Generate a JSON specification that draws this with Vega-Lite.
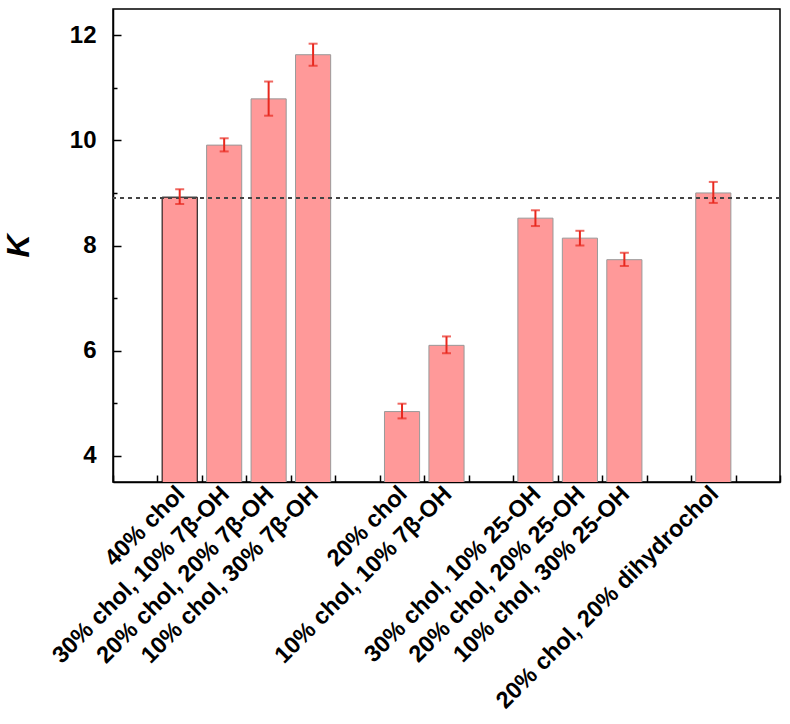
{
  "$schema": "https://vega.github.io/schema/vega-lite/v6.json",
  "autosize": "none",
  "width": 667,
  "height": 473,
  "padding": {"left": 113, "top": 9, "right": 10, "bottom": 242},
  "background": "white",
  "data": {
    "values": [
      {"label": "40% chol", "K": 8.92, "lo": 8.79, "hi": 9.07},
      {"label": "30% chol, 10% 7β-OH", "K": 9.91, "lo": 9.79, "hi": 10.04},
      {"label": "20% chol, 20% 7β-OH", "K": 10.79, "lo": 10.47, "hi": 11.12},
      {"label": "10% chol, 30% 7β-OH", "K": 11.63, "lo": 11.42, "hi": 11.84},
      {"label": "20% chol", "K": 4.84, "lo": 4.71, "hi": 4.99},
      {"label": "10% chol, 10% 7β-OH", "K": 6.1, "lo": 5.95, "hi": 6.27},
      {"label": "30% chol, 10% 25-OH", "K": 8.52, "lo": 8.37, "hi": 8.67},
      {"label": "20% chol, 20% 25-OH", "K": 8.14, "lo": 8.0, "hi": 8.28},
      {"label": "10% chol, 30% 25-OH", "K": 7.73, "lo": 7.61, "hi": 7.86},
      {"label": "20% chol, 20% dihydrochol", "K": 9.0, "lo": 8.81, "hi": 9.21}
    ]
  },
  "layer": [
    {
      "mark": {"type": "bar", "fill": "#ff9999", "strokeWidth": 1, "clip": true, "width": {"band": 0.79}},
      "encoding": {
        "x": {
          "field": "label",
          "type": "nominal",
          "sort": null,
          "scale": {
            "domain": ["_0", "40% chol", "30% chol, 10% 7β-OH", "20% chol, 20% 7β-OH", "10% chol, 30% 7β-OH", "_5", "20% chol", "10% chol, 10% 7β-OH", "_8", "30% chol, 10% 25-OH", "20% chol, 20% 25-OH", "10% chol, 30% 25-OH", "_12", "20% chol, 20% dihydrochol", "_14"],
            "paddingInner": 0,
            "paddingOuter": 0
          },
          "axis": {
            "title": null,
            "tickBand": "extent",
            "tickSize": -7,
            "tickWidth": 1.5,
            "tickColor": "black",
            "domainColor": "black",
            "domainWidth": 1.5,
            "labelAngle": -45,
            "labelAlign": "right",
            "labelBaseline": "middle",
            "labelFont": "Liberation Sans",
            "labelFontWeight": "bold",
            "labelFontSize": 23.5,
            "labelColor": "black",
            "labelPadding": 15,
            "labelOffset": 1,
            "labelLimit": 0,
            "labelOverlap": false,
            "labelExpr": "indexof(datum.label, '_') === 0 ? '' : datum.label"
          }
        },
        "y": {
          "field": "K",
          "type": "quantitative",
          "scale": {"domain": [3.5, 12.5], "nice": false, "zero": false},
          "axis": {
            "title": "K",
            "titleFont": "Liberation Sans",
            "titleFontStyle": "italic",
            "titleFontWeight": "bold",
            "titleFontSize": 32,
            "titleColor": "black",
            "titlePadding": 34,
            "values": [4, 4.5, 5, 5.5, 6, 6.5, 7, 7.5, 8, 8.5, 9, 9.5, 10, 10.5, 11, 11.5, 12],
            "tickSize": {"condition": {"test": "datum.value % 2 === 0", "value": -8}, "value": -4},
            "tickWidth": 1.5,
            "tickColor": "black",
            "domainColor": "black",
            "domainWidth": 1.5,
            "grid": false,
            "labelExpr": "datum.value % 2 === 0 ? datum.label : ''",
            "labelFont": "Liberation Sans",
            "labelFontWeight": "bold",
            "labelFontSize": 24,
            "labelColor": "black",
            "labelPadding": 25
          }
        },
        "stroke": {
          "condition": {"test": "datum.label === '40% chol'", "value": "black"},
          "value": "#999999"
        }
      }
    },
    {
      "mark": {"type": "rule", "color": "#444444", "strokeWidth": 1.5, "strokeDash": [4, 4]},
      "encoding": {"y": {"datum": 8.91}}
    },
    {
      "mark": {"type": "rule", "color": "#e8281e", "strokeWidth": 2},
      "encoding": {
        "x": {"field": "label", "type": "nominal", "sort": null},
        "y": {"field": "lo", "type": "quantitative"},
        "y2": {"field": "hi"}
      }
    },
    {
      "mark": {"type": "tick", "color": "#e8281e", "thickness": 2, "size": 9},
      "encoding": {
        "x": {"field": "label", "type": "nominal", "sort": null},
        "y": {"field": "lo", "type": "quantitative"}
      }
    },
    {
      "mark": {"type": "tick", "color": "#e8281e", "thickness": 2, "size": 9},
      "encoding": {
        "x": {"field": "label", "type": "nominal", "sort": null},
        "y": {"field": "hi", "type": "quantitative"}
      }
    }
  ],
  "config": {
    "font": "Liberation Sans",
    "view": {"stroke": "black", "strokeWidth": 1.5}
  }
}
